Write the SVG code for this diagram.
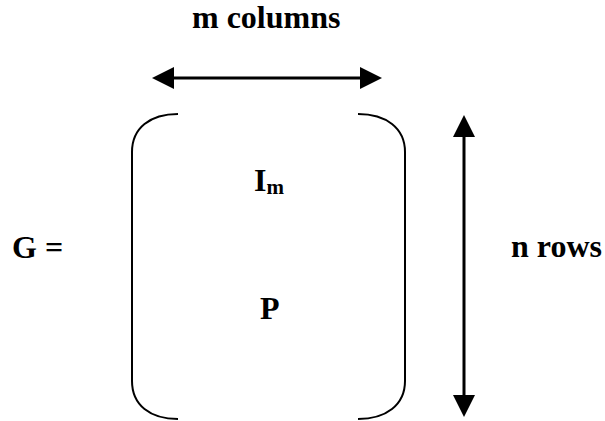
<svg xmlns="http://www.w3.org/2000/svg" width="605" height="421" viewBox="0 0 605 421">
<style>
.t{font-family:"Liberation Serif","Times New Roman",serif;font-weight:bold;font-size:32px;fill:#000}
.sub{font-size:21px}
.br{fill:none;stroke:#000;stroke-width:2}
.ln{stroke:#000;stroke-width:3;fill:none}
.hd{fill:#000}
</style>
<rect width="605" height="421" fill="#fff"/>
<g id="label-columns"><text class="t" x="192" y="28">m columns</text></g>
<g id="label-G"><text class="t" x="12" y="258">G =</text></g>
<g id="label-rows"><text class="t" x="511" y="257">n rows</text></g>
<g id="matrix">
<path class="br" d="M178,114 C150,114 132,128 132,152 L132,381 C132,405 150,419 178,419"/>
<path class="br" d="M358,114 C386,114 405,128 405,152 L405,381 C405,405 386,419 358,419"/>
<text class="t" x="254" y="191">I<tspan class="sub" dy="3">m</tspan></text>
<text class="t" x="260" y="319">P</text>
</g>
<g id="connectors">
<line class="ln" x1="170" y1="78" x2="364" y2="78"/>
<polygon class="hd" points="152,78 174,67 174,89"/>
<polygon class="hd" points="382,78 360,67 360,89"/>
<line class="ln" x1="464" y1="133" x2="464" y2="399"/>
<polygon class="hd" points="464,115 453,137 475,137"/>
<polygon class="hd" points="464,417 453,395 475,395"/>
</g>
</svg>
